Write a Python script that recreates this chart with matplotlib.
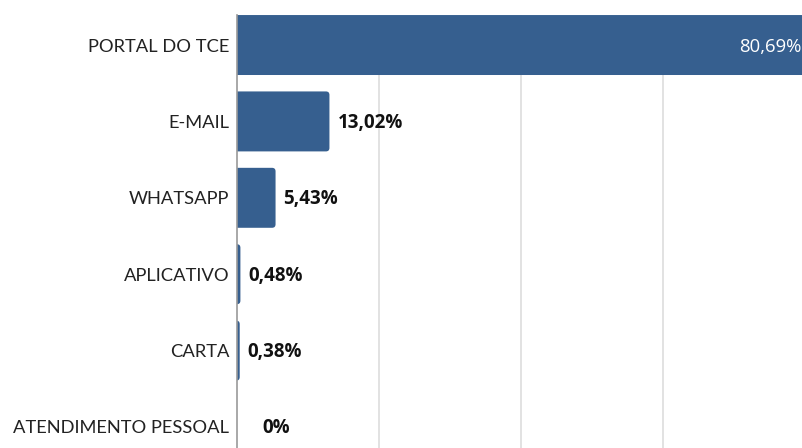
import matplotlib
matplotlib.use("Agg")
import matplotlib.pyplot as plt
from matplotlib.patches import FancyBboxPatch

categories = ["PORTAL DO TCE", "E-MAIL", "WHATSAPP", "APLICATIVO", "CARTA", "ATENDIMENTO PESSOAL"]
values = [80.69, 13.02, 5.43, 0.48, 0.38, 0.0]
labels = ["80,69%", "13,02%", "5,43%", "0,48%", "0,38%", "0%"]

BAR = "#365f8f"
plt.rcParams['font.family'] = ['Lato', 'DejaVu Sans']

fig = plt.figure(figsize=(8.02, 4.48), dpi=100)
ax = fig.add_axes([237 / 802, 0.0, 1 - 237 / 802, 1 - 15 / 448])

xmax = 565 / 7.1
ax.set_xlim(0, xmax)
ax.set_ylim(5.275, -0.393)

# pixel conversions
ax_w_px = 565
ax_h_px = 433
xu_per_px = xmax / ax_w_px
yu_per_px = (5.275 + 0.393) / ax_h_px
r_px = 3.5
r = r_px * xu_per_px
h = 0.785

for i, v in enumerate(values):
    if v <= 0:
        continue
    start = -r * 1.2
    p = FancyBboxPatch((start, i - h / 2), v - start, h,
                       boxstyle=f"round,pad=0,rounding_size={r}",
                       mutation_aspect=yu_per_px / xu_per_px,
                       facecolor=BAR, edgecolor="none", zorder=3)
    ax.add_patch(p)

PX = 0.72  # points per pixel at dpi 100
for i, (v, lab) in enumerate(zip(values, labels)):
    if i == 0:
        ax.annotate(lab, (v, i), xytext=(-8 * PX, -1.5 * PX), textcoords="offset points",
                    ha="right", va="center", color="white", fontsize=13.3,
                    family=['Open Sans', 'DejaVu Sans'], annotation_clip=False, zorder=4)
    else:
        off = 8 if v > 0 else 25
        ax.annotate(lab, (v, i), xytext=(off * PX, -1.5 * PX), textcoords="offset points",
                    ha="left", va="center", color="#111111", fontsize=13.5,
                    family=['Open Sans', 'DejaVu Sans'], fontweight="bold", zorder=4)

ax.set_xticks([20, 40, 60])
ax.grid(axis="x", color="#dddddd", linewidth=1.2, zorder=0)
ax.set_axisbelow(True)
ax.tick_params(axis="x", length=0, labelbottom=False)
ax.set_yticks(range(len(categories)))
ax.set_yticklabels(categories, fontsize=13.2, color="#222222")
ax.tick_params(axis="y", length=0, pad=5.5)
for s in ["top", "right", "bottom"]:
    ax.spines[s].set_visible(False)
ax.spines["left"].set_color("#999999")
ax.spines["left"].set_linewidth(1.2)
ax.spines["left"].set_zorder(5)

fig.savefig("out.png", dpi=100)
